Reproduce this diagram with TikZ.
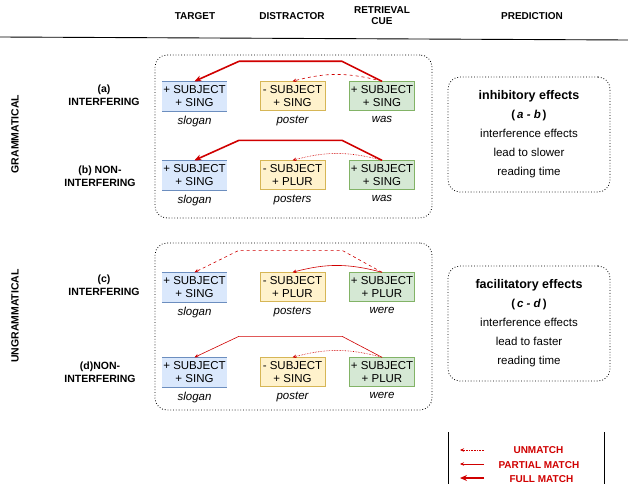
\documentclass[tikz,border=0pt]{standalone}
\usepackage{fontspec}
\setmainfont{Liberation Sans}
\usetikzlibrary{arrows.meta,positioning}
\definecolor{bfill}{HTML}{DAE8FC}\definecolor{bline}{HTML}{6C8EBF}
\definecolor{yfill}{HTML}{FFF2CC}\definecolor{yline}{HTML}{D6B656}
\definecolor{gfill}{HTML}{D5E8D4}\definecolor{gline}{HTML}{82B366}
\definecolor{rd}{HTML}{D00000}
\begin{document}
\begin{tikzpicture}[x=1pt,y=-1pt,
  feat/.style={minimum width=65pt,minimum height=29pt,inner sep=0pt,align=center,font=\fontsize{11.5}{13}\selectfont},
  tbox/.style={feat,fill=bfill},
  dbox/.style={feat,fill=yfill,draw=yline},
  cbox/.style={feat,fill=gfill,draw=gline},
  word/.style={font=\fontsize{11.5}{13}\selectfont\itshape,anchor=north},
  hdr/.style={font=\fontsize{10}{11}\selectfont\bfseries,align=center},
  lbl/.style={font=\fontsize{10.5}{13}\selectfont\bfseries,align=center},
  grp/.style={draw,dotted,thick,rounded corners=12pt},
  full/.style={rd,line width=1.6pt,-{Stealth[length=7pt,width=6pt]}},
  part/.style={rd,line width=0.6pt,-{Stealth[length=4pt,width=3.5pt]}},
  unm/.style={rd,line width=0.6pt,densely dotted,-{Stealth[length=4pt,width=3.5pt]}},
  pdash/.style={rd,line width=0.6pt,dashed,-{Stealth[length=4pt,width=3.5pt]}},
  pred/.style={grp,minimum width=162pt,minimum height=115pt,align=center,font=\fontsize{11.5}{19}\selectfont},
  leg/.style={font=\fontsize{10}{11}\selectfont\bfseries,text=rd,anchor=west}]
\useasboundingbox (0,0) rectangle (628,484);
\node[hdr] (h1) at (195,16) {TARGET};
\node[hdr] (h2) at (292,16) {DISTRACTOR};
\node[hdr] (h3) at (382,16) {RETRIEVAL\\CUE};
\node[hdr] (h4) at (532,16) {PREDICTION};
\draw[line width=0.9pt] (0,37) -- (628,40);
\node[grp,minimum width=277pt,minimum height=163pt] (g1) at (293.5,136.5) {};
\node[grp,minimum width=277pt,minimum height=167pt] (g2) at (293.5,326.5) {};
\node[lbl,rotate=90] (G) at (15,134) {GRAMMATICAL};
\node[lbl,rotate=90] (U) at (15,316) {UNGRAMMATICAL};
\node[lbl] (la) at (104,95) {(a)\\INTERFERING};
\node[lbl] (lb) at (100,176) {(b) NON-\\INTERFERING};
\node[lbl] (lc) at (104,285) {(c)\\INTERFERING};
\node[lbl] (ld) at (100,372) {(d)NON-\\INTERFERING};
% rows
\foreach \r/\y/\d/\c/\dw/\cw in {a/96/{- SUBJECT\\+ SING}/{+ SUBJECT\\+ SING}/poster/was,
  b/175/{- SUBJECT\\+ PLUR}/{+ SUBJECT\\+ SING}/posters/was,
  c/287/{- SUBJECT\\+ PLUR}/{+ SUBJECT\\+ PLUR}/posters/were,
  d/372/{- SUBJECT\\+ SING}/{+ SUBJECT\\+ PLUR}/poster/were}{
  \node[tbox] (t\r) at (194.5,\y) {+ SUBJECT\\+ SING};
  \draw[bline] (t\r.north west) -- (t\r.north east) (t\r.south west) -- (t\r.south east);
  \node[dbox] (d\r) at (292.5,\y) {\d};
  \node[cbox] (c\r) at (382,\y) {\c};
  \node[word] (wt\r) at (194.5,\y+17) {slogan};
  \node[word] (wd\r) at (292.5,\y+17) {\dw};
  \node[word] (wc\r) at (382,\y+17) {\cw};
}
\path (ca.north) coordinate (sa) (cb.north) coordinate (sb) (cc.north) coordinate (sc) (cd.north) coordinate (sd);
\draw[full,line join=round] (sa) -- ++(-40,-20) -- ++(-103,0) -- (ta.north);
\draw[pdash] (sa) to[bend right=15] (da.north);
\draw[full,line join=round] (sb) -- ++(-40,-20) -- ++(-103,0) -- (tb.north);
\draw[unm] (sb) to[bend right=15] (db.north);
\draw[pdash] (sc) -- ++(-40,-22) -- ++(-103,0) -- (tc.north);
\draw[part] (sc) to[bend right=15] (dc.north);
\draw[part] (sd) -- ++(-40,-21) -- ++(-103,0) -- (td.north);
\draw[unm] (sd) to[bend right=15] (dd.north);
% predictions
\node[pred] (p1) at (529,134.5)
  {\textbf{\fontsize{12.5}{19}\selectfont inhibitory effects}\\\textbf{(\,\textit{a - b}\,)}\\interference effects\\lead to slower\\reading time};
\node[pred] (p2) at (529,323.5)
  {\textbf{\fontsize{12.5}{19}\selectfont facilitatory effects}\\\textbf{(\,\textit{c - d}\,)}\\interference effects\\lead to faster\\reading time};
% legend
\draw[line width=0.6pt] (448,432) -- (448,484) (604,432) -- (604,484);
\node[leg] (l1) at (510,450) {UNMATCH};
\node[leg] (l2) at (495,465) {PARTIAL MATCH};
\node[leg] (l3) at (506,479) {FULL MATCH};
\coordinate (e1) at (484,450); \coordinate (e2) at (484,464); \coordinate (e3) at (484,478);
\draw[unm] (e1) -- ++(-24,0);
\draw[part] (e2) -- ++(-24,0);
\draw[full] (e3) -- ++(-24,0);
\end{tikzpicture}
\end{document}
